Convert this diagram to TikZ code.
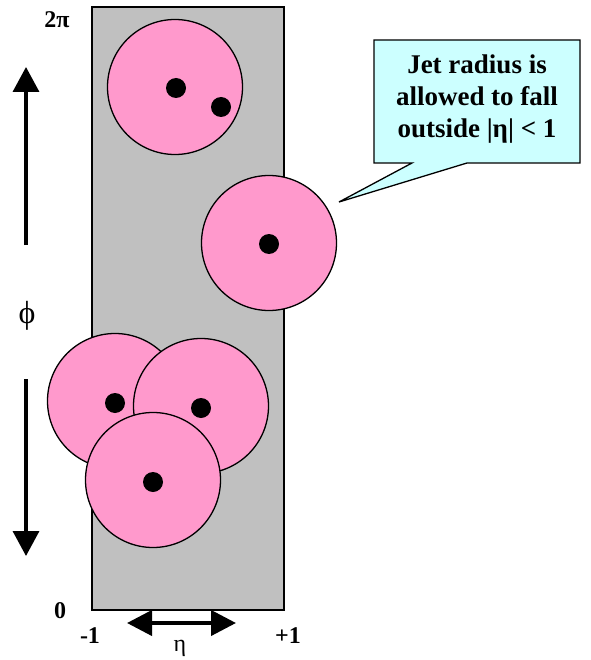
\documentclass[tikz,border=0pt]{standalone}
\usepackage{fontspec}
\setmainfont{Liberation Serif}
\newfontfamily\tms{Liberation Serif}
\usepackage{tikz}
\usetikzlibrary{arrows.meta}
\definecolor{jetpink}{HTML}{FF99CC}
\definecolor{bandgray}{HTML}{C0C0C0}
\definecolor{notecyan}{HTML}{CCFFFF}

\begin{document}
\begin{tikzpicture}[x=1pt, y=-1pt,
                    jet/.style={circle, draw, line width=1.3pt, fill=jetpink, minimum size=135pt, inner sep=0pt},
                    hit/.style={circle, fill=black, minimum size=20pt, inner sep=0pt},
                    lbl/.style={font=\tms\fontsize{24}{26}\selectfont\bfseries, inner sep=0pt},
                    bigarr/.style={-{Triangle[length=25pt, width=26pt]}, line width=3.5pt}]
        \useasboundingbox (0,0) rectangle (590,660);
        % eta band
        \draw[fill=bandgray, line width=1.3pt] (92,7) rectangle (284,610);
        % jets
        \node[jet] (jtop)   at (175,87)  {};
        \node[hit] (htopa)  at (176,88)  {};
        \node[hit] (htopb)  at (221,107) {};
        \node[jet] (jright) at (269,243) {};
        \node[hit] (hright) at (269,244) {};
        \node[jet] (jleft)  at (115,401) {};
        \node[hit] (hleft)  at (115,403) {};
        \node[jet] (jmid)   at (201,406) {};
        \node[hit] (hmid)   at (201,408) {};
        \node[jet] (jlow)   at (153,480) {};
        \node[hit] (hlow)   at (153,482) {};
        % axes
        \node[lbl] (twopi) at (57,20)  {2π};
        \node[lbl] (zero)  at (60,611) {0};
        \node[lbl] (mone)  at (90,636) {-1};
        \node[lbl] (pone)  at (288,636) {+1};
        \node[font=\tms\fontsize{32}{34}\selectfont, inner sep=0pt] (phi) at (27,316) {ϕ};
        \node[font=\tms\fontsize{24}{26}\selectfont, inner sep=0pt] (eta) at (180,648) {η};
        \coordinate (upS) at (26,245);
        \coordinate (upE) at (26,67);
        \coordinate (dnS) at (26,379);
        \coordinate (dnE) at (26,556);
        \coordinate (etaL) at (127,623);
        \coordinate (etaR) at (236,623);
        \draw[bigarr] (upS) -- (upE);
        \draw[bigarr] (dnS) -- (dnE);
        \draw[{Triangle[length=25pt, width=25pt]}-{Triangle[length=25pt, width=25pt]}, line width=4pt] (etaL) -- (etaR);
        % note
        \draw[fill=notecyan, line width=1.3pt] (374,40) -- (580,40) -- (580,163) -- (467,163) -- (339,202) -- (412,163) -- (374,163) -- cycle;
        \node[align=center, font=\tms\fontsize{27}{32}\selectfont\bfseries] (note) at (477,99) {Jet radius is\\allowed to fall\\outside |η| < 1};
    \end{tikzpicture}
\end{document}
